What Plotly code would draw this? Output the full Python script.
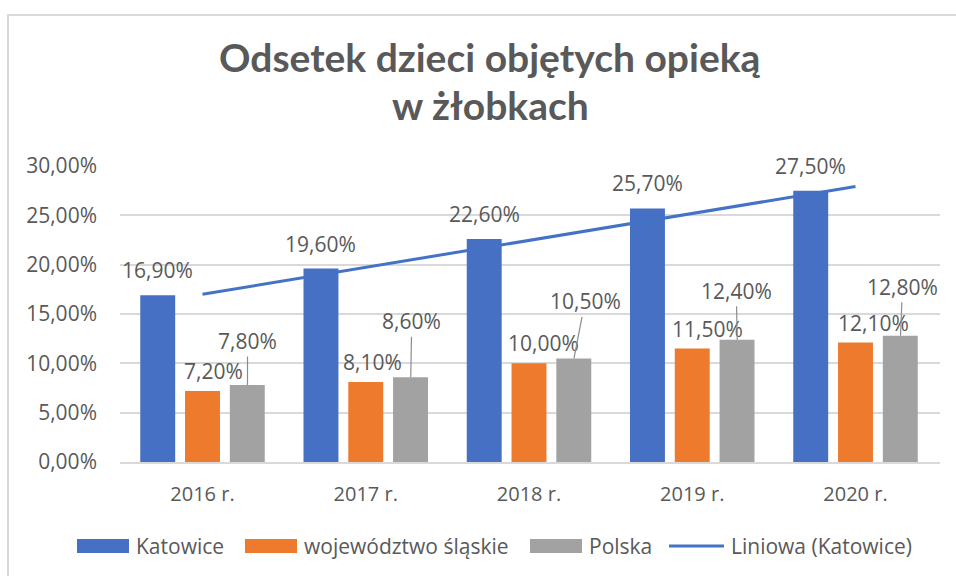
import numpy as np
import plotly.graph_objects as go

# ---------------- data ----------------
categories = ["2016 r.", "2017 r.", "2018 r.", "2019 r.", "2020 r."]
katowice = [16.9, 19.6, 22.6, 25.7, 27.5]
slaskie = [7.2, 8.1, 10.0, 11.5, 12.1]
polska = [7.8, 8.6, 10.5, 12.4, 12.8]
series_names = ["Katowice", "województwo śląskie", "Polska", "Liniowa (Katowice)"]
y_tick_vals = [0, 5, 10, 15, 20, 25, 30]
y_tick_labels = ["0,00%", "5,00%", "10,00%", "15,00%", "20,00%", "25,00%", "30,00%"]
title_lines = ["Odsetek dzieci objętych opieką", "w żłobkach"]

# linear trendline (Excel "Liniowa") fitted to the Katowice series
idx = np.arange(len(katowice))
coef = np.polyfit(idx, katowice, 1)
trend = np.polyval(coef, idx)

# ---------------- style ----------------
C_BLUE = "#4570C4"
C_ORANGE = "#EE7A2E"
C_GRAY = "#A2A2A2"
C_LINE = "#4472C4"
C_TEXT = "#595959"
FONT = "Open Sans"

W, H = 956, 576
L, R, T, B = 120, 940, 166, 462  # plot area in px


def px_x(px):
    return (px - L) / (R - L)


def px_y(py):
    return (B - py) / (B - T)


def fmt(v):
    return f"{v:.2f}".replace(".", ",") + "%"


fig = go.Figure()
fig.add_trace(go.Bar(x=categories, y=katowice, name=series_names[0],
                     marker=dict(color=C_BLUE, line=dict(width=0))))
fig.add_trace(go.Bar(x=categories, y=slaskie, name=series_names[1],
                     marker=dict(color=C_ORANGE, line=dict(width=0))))
fig.add_trace(go.Bar(x=categories, y=polska, name=series_names[2],
                     marker=dict(color=C_GRAY, line=dict(width=0))))
fig.add_trace(go.Scatter(x=categories, y=trend, name=series_names[3], mode="lines",
                         line=dict(color=C_LINE, width=3)))

annotations = []
slot = 45  # px between bar centres within a group
lab_font = dict(family=FONT, size=21, color=C_TEXT)

# Katowice labels (above bar)
for c, v in zip(categories, katowice):
    annotations.append(dict(x=c, y=v, text=fmt(v), showarrow=False, xshift=-slot,
                            yshift=25, yanchor="middle", xanchor="center", font=lab_font))
# województwo labels (slightly right, above)
orange_dx = [11, 7, 14, 15, 18]
for c, v, dx in zip(categories, slaskie, orange_dx):
    annotations.append(dict(x=c, y=v, text=fmt(v), showarrow=False, xshift=dx,
                            yshift=20, yanchor="middle", xanchor="center", font=lab_font))
# Polska labels with leader lines
gray_ax = [0, 1, 11, -1, 2]
gray_ay = [-44, -56, -57, -49, -49]
for c, v, ax, ay in zip(categories, polska, gray_ax, gray_ay):
    annotations.append(dict(x=c, y=v, text=fmt(v), showarrow=True, arrowhead=0,
                            arrowwidth=1.2, arrowcolor="#8C8C8C", standoff=0,
                            xshift=slot, ax=ax, ay=ay, font=lab_font))

# title (two lines)
title_font = dict(family="Lato", size=39, color=C_TEXT, weight="bold")
for line, cy in zip(title_lines, [57, 105]):
    annotations.append(dict(xref="paper", yref="paper", x=px_x(490), y=px_y(cy),
                            text=line, showarrow=False, xanchor="center",
                            yanchor="middle", font=title_font))

# manual legend
shapes = []
leg_y = 546
legend_items = [
    (77, 129, "rect", C_BLUE, series_names[0]),
    (245, 297, "rect", C_ORANGE, series_names[1]),
    (530, 582, "rect", C_GRAY, series_names[2]),
    (669, 724, "line", C_LINE, series_names[3]),
]
for x0, x1, kind, col, name in legend_items:
    if kind == "rect":
        shapes.append(dict(type="rect", xref="paper", yref="paper",
                           x0=px_x(x0), x1=px_x(x1), y0=px_y(leg_y + 7), y1=px_y(leg_y - 7),
                           fillcolor=col, line=dict(width=0)))
    else:
        shapes.append(dict(type="line", xref="paper", yref="paper",
                           x0=px_x(x0), x1=px_x(x1), y0=px_y(leg_y), y1=px_y(leg_y),
                           line=dict(color=col, width=3)))
    annotations.append(dict(xref="paper", yref="paper", x=px_x(x1 + 5), y=px_y(leg_y),
                            text=name, showarrow=False, xanchor="left", yanchor="middle",
                            font=lab_font))

# chart frame
shapes.append(dict(type="rect", xref="paper", yref="paper", layer="below",
                   x0=px_x(8), x1=px_x(1000), y0=px_y(620), y1=px_y(15),
                   line=dict(color="#D9D9D9", width=2), fillcolor="rgba(0,0,0,0)"))

fig.update_layout(
    width=W, height=H,
    margin=dict(l=L, r=W - R, t=T, b=H - B, pad=0),
    paper_bgcolor="white", plot_bgcolor="white",
    barmode="group", bargap=0.177, bargroupgap=0.22,
    showlegend=False,
    font=dict(family=FONT, size=20, color=C_TEXT),
    annotations=annotations, shapes=shapes,
    xaxis=dict(showgrid=False, showline=True, linecolor="#D9D9D9", linewidth=2,
               ticks="", tickfont=dict(family=FONT, size=20, color=C_TEXT),
               ticklabelstandoff=13, fixedrange=True),
    yaxis=dict(range=[0, 30], tickvals=y_tick_vals, ticktext=y_tick_labels,
               showgrid=True, gridcolor="#D9D9D9", gridwidth=2, zeroline=False,
               showline=False, ticks="", ticklabelstandoff=22,
               tickfont=dict(family=FONT, size=21, color=C_TEXT), fixedrange=True),
)

fig.write_html("out.html", config={"displayModeBar": False},
               post_script="document.body.style.margin='0';document.body.style.overflow='hidden';")
